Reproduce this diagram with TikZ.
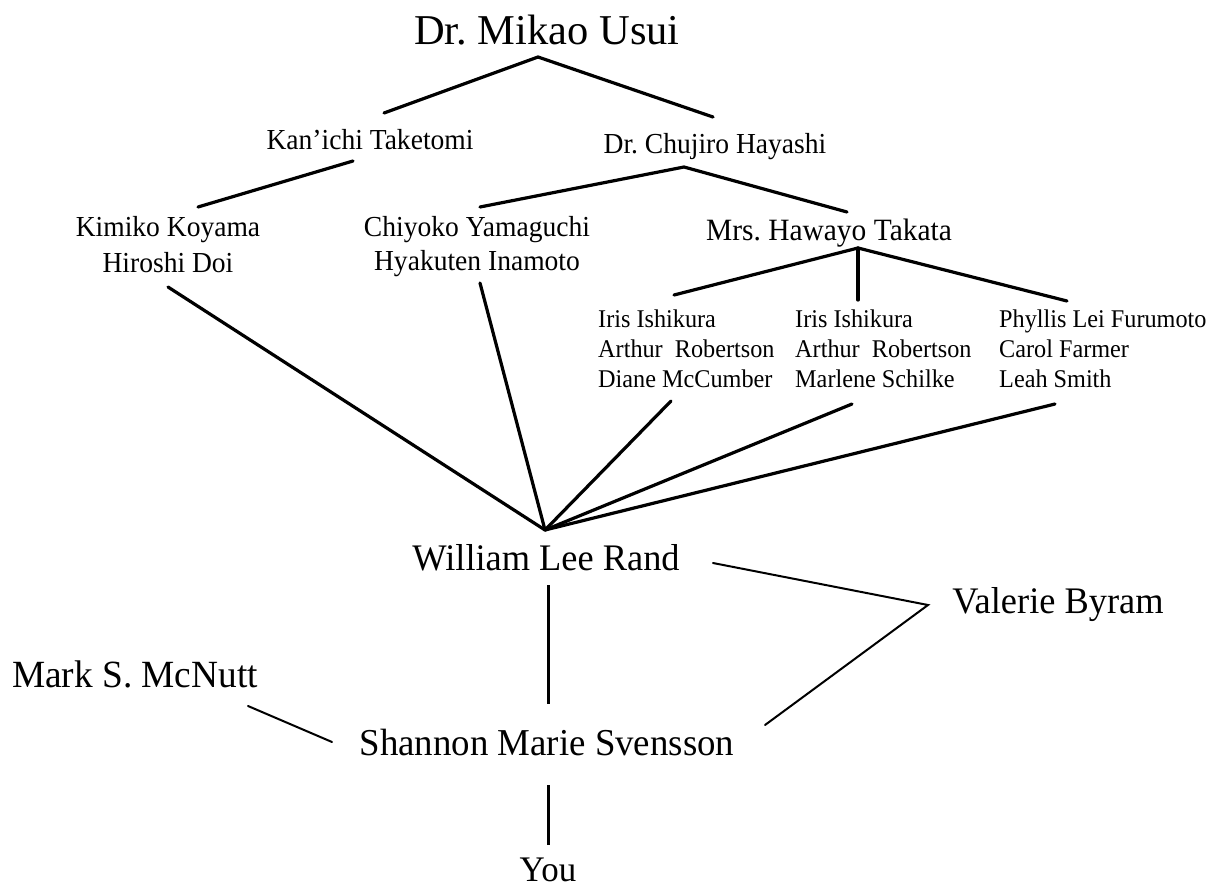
\documentclass[tikz,border=0pt]{standalone}
\usepackage{fontspec}
\setmainfont{Liberation Serif}
\newfontfamily\upf[FakeStretch=0.95]{Liberation Serif}
\newfontfamily\lowf[FakeStretch=0.97]{Liberation Serif}
\frenchspacing
\tikzset{
  title/.style={anchor=base, inner sep=0pt, font=\fontsize{42.5}{48}\selectfont},
  mid/.style={anchor=base, inner sep=0pt, font=\upf\fontsize{29}{35}\selectfont},
  midpair/.style={anchor=north, inner sep=0pt, align=center, font=\upf\fontsize{29}{35}\selectfont},
  grp/.style={anchor=north west, inner sep=0pt, align=left, font=\upf\fontsize{25.5}{30}\selectfont},
  low/.style={anchor=base, inner sep=0pt, font=\lowf\fontsize{37.5}{42}\selectfont},
  thick line/.style={line width=3.2pt, line cap=round},
  thin line/.style={line width=2pt, line cap=round}
}
\begin{document}
\begin{tikzpicture}[x=1pt,y=-1pt]
\useasboundingbox (0,0) rectangle (1214,888);

% names
\node[title] (usui) at (547,45) {Dr. Mikao Usui};
\node[mid] (taketomi) at (370,149) {Kan’ichi Taketomi};
\node[mid] (hayashi) at (715,153) {Dr. Chujiro Hayashi};
\node[midpair, font=\upf\fontsize{29}{36}\selectfont] (koyama) at (168,216) {Kimiko Koyama\\Hiroshi Doi};
\node[midpair, font=\upf\fontsize{29}{34.5}\selectfont] (yamaguchi) at (477,216) {Chiyoko Yamaguchi\\Hyakuten Inamoto};
\node[mid, font=\upf\fontsize{31}{35}\selectfont] (takata) at (829,240) {Mrs. Hawayo Takata};
\node[grp] (g1) at (598,310) {Iris Ishikura\\Arthur\ \ Robertson\\Diane McCumber};
\node[grp] (g2) at (795,310) {Iris Ishikura\\Arthur\ \ Robertson\\Marlene Schilke};
\node[grp] (g3) at (999,310) {Phyllis Lei Furumoto\\Carol Farmer\\Leah Smith};
\node[low] (rand) at (546,570) {William Lee Rand};
\node[low] (valerie) at (1058,613) {Valerie Byram};
\node[low, font=\lowf\fontsize{38.5}{42}\selectfont] (mcnutt) at (135,687) {Mark S. McNutt};
\node[low, font=\lowf\fontsize{38}{42}\selectfont] (shannon) at (547,755) {Shannon Marie Svensson};
\node[low, font=\lowf\fontsize{36}{42}\selectfont] (you) at (548,881) {You};

% junctions and line ends
\coordinate (usuiJ) at (538,57);
\coordinate (taketomiT) at (384,113);
\coordinate (hayashiT) at (713,117);
\coordinate (taketomiB) at (353,161);
\coordinate (koyamaT) at (198,207);
\coordinate (hayashiJ) at (684,167);
\coordinate (yamaguchiT) at (480,207);
\coordinate (takataT) at (847,212);
\coordinate (takataJ) at (858,248);
\coordinate (g1T) at (674,295);
\coordinate (g2T) at (858,300);
\coordinate (g3T) at (1067,301);
\coordinate (koyamaB) at (168,287);
\coordinate (yamaguchiB) at (480,283);
\coordinate (g1B) at (671,401);
\coordinate (g2B) at (852,404);
\coordinate (g3B) at (1055,404);
\coordinate (randJ) at (545,530);
\coordinate (randB) at (548,585);
\coordinate (shannonT) at (548,704);
\coordinate (valerieJ) at (928,605);
\coordinate (randR) at (713,563);
\coordinate (shannonR) at (765,725);
\coordinate (mcnuttB) at (248,706);
\coordinate (shannonL) at (332,742);
\coordinate (shannonB) at (548,785);
\coordinate (youT) at (548,845);

% connectors
\draw[thick line] (taketomiT) -- (usuiJ) -- (hayashiT);
\draw[thick line] (taketomiB) -- (koyamaT);
\draw[thick line] (yamaguchiT) -- (hayashiJ) -- (takataT);
\draw[thick line] (g1T) -- (takataJ) -- (g3T);
\draw[thick line] (takataJ) -- (g2T);
\draw[thick line] (koyamaB) -- (randJ);
\draw[thick line] (yamaguchiB) -- (randJ);
\draw[thick line] (g1B) -- (randJ);
\draw[thick line] (g2B) -- (randJ);
\draw[thick line] (g3B) -- (randJ);
\draw[line width=3pt] (randB) -- (shannonT);
\draw[thin line] (randR) -- (valerieJ) -- (shannonR);
\draw[thin line] (mcnuttB) -- (shannonL);
\draw[line width=3pt] (shannonB) -- (youT);
\end{tikzpicture}
\end{document}
